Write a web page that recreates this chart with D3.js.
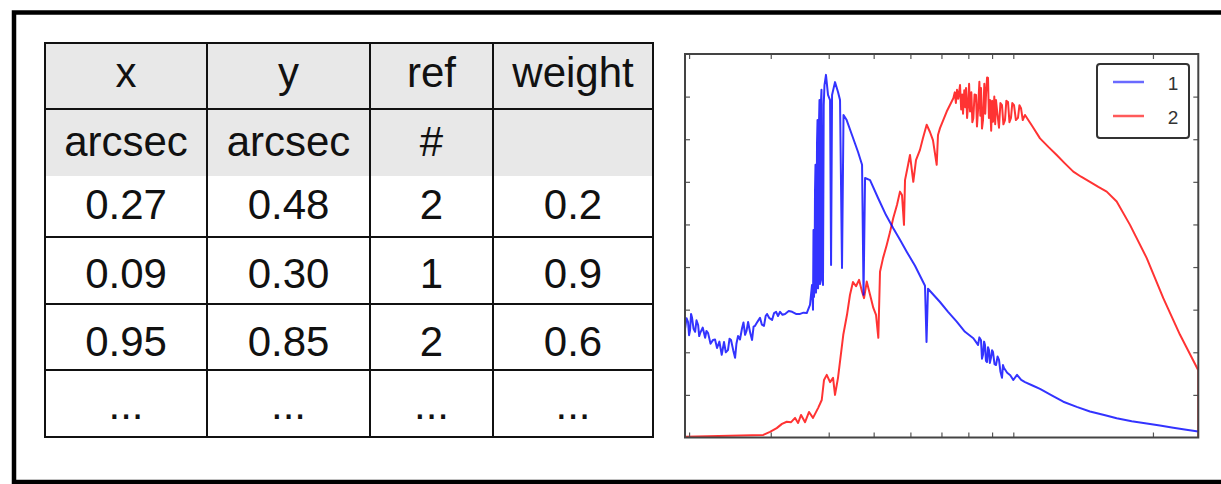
<!DOCTYPE html>
<html>
<head>
<meta charset="utf-8">
<script src="https://cdn.jsdelivr.net/npm/d3@7"></script>
<style>
html,body{margin:0;padding:0;background:#fff;}
svg{display:block;}
text{font-family:"Liberation Sans",Arial,sans-serif;}
</style>
</head>
<body>
<svg id="c" width="1221" height="484"></svg>
<script>
// ---------- data ----------
const headers = ["x", "y", "ref", "weight"];
const units = ["arcsec", "arcsec", "#", ""];
const xVals = [0.27, 0.09, 0.95];
const yVals = [0.48, 0.30, 0.85];
const refVals = [2, 1, 2];
const weightVals = [0.2, 0.9, 0.6];
const ellipsis = "...";

const seriesNames = ["1", "2"];
const xTicks = [0.2, 0.3, 0.4, 0.5, 0.6, 0.7, 0.8, 0.9, 1, 2];
const yTicks = [1, 2, 3, 4, 5, 6, 7, 8];

// series 1 (blue): wavelength / flux
const wave1 = [0.1961,0.1975,0.1990,0.2000,0.2010,0.2020,0.2030,0.2045,0.2061,0.2075,0.2092,0.2103,0.2113,0.2140,0.2166,0.2180,0.2198,0.2225,0.2253,0.2275,0.2298,0.2325,0.2352,0.2379,0.2400,0.2426,0.2445,0.2463,0.2490,0.2513,0.2530,0.2550,0.2575,0.2602,0.2620,0.2641,0.2660,0.2681,0.2710,0.2734,0.2755,0.2775,0.2810,0.2844,0.2870,0.2901,0.2925,0.2945,0.2980,0.3020,0.3050,0.3081,0.3110,0.3142,0.3180,0.3221,0.3280,0.3336,0.3400,0.3470,0.3530,0.3587,0.3645,0.3682,0.3700,0.3709,0.3718,0.3728,0.3737,0.3746,0.3755,0.3765,0.3774,0.3784,0.3793,0.3803,0.3812,0.3821,0.3830,0.3840,0.3850,0.3859,0.3873,0.3888,0.3902,0.3917,0.3946,0.3986,0.4027,0.4047,0.4067,0.4127,0.4189,0.4231,0.4273,0.4305,0.4373,0.4490,0.4627,0.4720,0.4755,0.4791,0.4911,0.5110,0.5316,0.5511,0.5698,0.5891,0.6139,0.6451,0.6500,0.6548,0.6950,0.7234,0.7551,0.7867,0.8200,0.8300,0.8394,0.8450,0.8519,0.8560,0.8604,0.8650,0.8689,0.8730,0.8775,0.8820,0.8863,0.8900,0.8951,0.9000,0.9041,0.9110,0.9177,0.9250,0.9315,0.9380,0.9454,0.9500,0.9550,0.9700,0.9850,1.0000,1.0186,1.0400,1.0598,1.1000,1.1417,1.2100,1.2817,1.3700,1.4630,1.5700,1.6706,1.8000,1.9393,2.0700,2.2125,2.3600,2.5045];
const flux1 = [2.56,2.80,2.71,2.40,2.52,2.90,2.81,2.55,2.48,2.75,2.64,2.38,2.45,2.58,2.34,2.50,2.45,2.20,2.29,2.30,2.10,2.25,1.94,2.24,2.00,2.05,2.32,2.29,2.05,1.87,2.20,2.38,2.30,2.57,2.70,2.41,2.50,2.71,2.45,2.29,2.60,2.62,2.72,2.81,2.65,2.62,2.85,2.90,2.80,2.76,2.92,2.95,2.85,2.95,2.88,2.90,2.97,2.95,2.90,2.90,2.93,2.92,3.11,3.58,3.00,4.87,3.30,3.58,5.80,6.40,3.40,3.70,6.90,7.45,3.50,3.81,7.40,7.92,3.60,3.70,7.90,8.16,3.75,3.58,7.80,8.27,8.51,8.04,7.92,4.05,8.04,8.34,8.11,7.92,3.98,7.57,7.45,7.10,6.70,6.40,3.35,6.09,6.04,5.62,5.22,4.91,4.64,4.36,4.03,3.56,2.24,3.49,3.18,2.95,2.72,2.48,2.33,2.25,2.17,2.35,2.28,1.85,1.94,2.25,2.17,1.80,1.77,2.12,2.05,1.75,1.87,2.05,2.01,1.72,1.70,1.90,1.82,1.55,1.40,1.70,1.63,1.52,1.46,1.35,1.47,1.35,1.30,1.22,1.14,0.99,0.84,0.72,0.61,0.53,0.45,0.38,0.33,0.28,0.23,0.18,0.14];

// series 2 (red): wavelength / flux
const wave2 = [0.1961,0.2891,0.2989,0.3090,0.3172,0.3248,0.3319,0.3385,0.3436,0.3487,0.3557,0.3628,0.3700,0.3794,0.3864,0.3908,0.3961,0.4027,0.4087,0.4127,0.4189,0.4300,0.4380,0.4446,0.4512,0.4581,0.4650,0.4720,0.4767,0.4831,0.4911,0.4992,0.5059,0.5117,0.5160,0.5238,0.5335,0.5423,0.5511,0.5615,0.5698,0.5755,0.5812,0.5842,0.5929,0.5988,0.6087,0.6169,0.6292,0.6387,0.6505,0.6612,0.6711,0.6837,0.6881,0.6950,0.7185,0.7425,0.7480,0.7520,0.7562,0.7610,0.7676,0.7720,0.7760,0.7792,0.7840,0.7880,0.7909,0.7950,0.7988,0.8030,0.8067,0.8120,0.8160,0.8200,0.8250,0.8310,0.8350,0.8394,0.8450,0.8490,0.8519,0.8560,0.8604,0.8660,0.8700,0.8733,0.8780,0.8820,0.8860,0.8907,0.8960,0.9000,0.9041,0.9100,0.9140,0.9177,0.9240,0.9315,0.9380,0.9454,0.9520,0.9596,0.9660,0.9741,0.9810,0.9886,0.9950,1.0035,1.0130,1.0235,1.0310,1.0390,1.0480,1.0598,1.1000,1.1417,1.1900,1.2403,1.2900,1.3469,1.4000,1.4630,1.5250,1.5898,1.6706,1.7846,1.9393,2.1053,2.2877,2.5045,2.5046];
const flux2 = [0.02,0.06,0.13,0.22,0.32,0.37,0.36,0.46,0.34,0.53,0.36,0.60,0.46,0.69,0.88,1.35,1.47,1.30,1.40,1.00,1.40,2.41,2.88,3.35,3.65,3.55,3.70,3.42,3.27,3.66,3.35,3.04,2.88,2.34,3.89,4.21,4.52,4.82,5.15,5.46,5.77,5.69,4.99,6.04,6.39,6.63,6.00,6.51,6.75,7.03,7.34,7.17,6.98,6.40,7.10,7.26,7.65,7.96,8.10,7.85,8.16,7.95,8.27,7.70,8.05,7.60,8.15,7.75,8.20,7.50,7.80,8.30,7.65,8.10,7.40,7.49,8.05,8.04,7.30,7.69,8.35,7.55,8.20,7.25,7.45,8.30,7.60,8.04,8.45,8.44,7.50,7.92,7.20,7.90,7.41,8.00,7.35,7.92,7.60,7.27,7.85,7.80,7.35,7.45,7.90,7.87,7.40,7.50,7.85,7.80,7.45,7.50,7.80,7.73,7.45,7.57,7.30,7.02,6.82,6.63,6.44,6.24,6.12,6.00,5.88,5.77,5.54,4.99,4.21,3.27,2.41,1.58,0.00];

// ---------- drawing ----------
const svg = d3.select("#c");

// outer frame
svg.append("rect").attr("x", 14).attr("y", 12.5).attr("width", 1225).attr("height", 469.5)
  .attr("fill", "none").attr("stroke", "#000").attr("stroke-width", 4.5);

// ---- table ----
const colEdges = [45, 207, 370, 493, 653];
const rowEdges = [43, 109, 176, 237, 304, 370, 437];
const baselines = [87, 156, 219, 288, 356, 419];
const fmt2 = d3.format(".2f"), fmt1 = d3.format(".1f");
const tableRows = [headers, units];
xVals.forEach((v, i) => tableRows.push([fmt2(v), fmt2(yVals[i]), String(refVals[i]), fmt1(weightVals[i])]));
tableRows.push(headers.map(() => ellipsis));

const tbl = svg.append("g");
tbl.append("rect").attr("x", colEdges[0]).attr("y", rowEdges[0])
  .attr("width", colEdges[4] - colEdges[0]).attr("height", rowEdges[2] - rowEdges[0]).attr("fill", "#e8e8e8");
[0, 1, 3, 4, 5, 6].forEach(r => {
  tbl.append("line").attr("x1", colEdges[0] - 1).attr("x2", colEdges[4] + 1)
    .attr("y1", rowEdges[r]).attr("y2", rowEdges[r]).attr("stroke", "#111").attr("stroke-width", 2);
});
colEdges.forEach(c => {
  tbl.append("line").attr("x1", c).attr("x2", c).attr("y1", rowEdges[0] - 1).attr("y2", rowEdges[6] + 1)
    .attr("stroke", "#111").attr("stroke-width", 2);
});
tableRows.forEach((row, r) => {
  row.forEach((t, c) => {
    tbl.append("text").attr("x", (colEdges[c] + colEdges[c + 1]) / 2).attr("y", baselines[r])
      .attr("text-anchor", "middle").attr("font-size", 42).attr("fill", "#111").text(t);
  });
});

// ---- plot ----
const x = d3.scaleLog().domain([0.196, 2.505]).range([685, 1198.3]);
const y = d3.scaleLinear().domain([0, 9]).range([437.5, 54]);

svg.append("rect").attr("x", 685).attr("y", 54).attr("width", 513.3).attr("height", 383.5).attr("fill", "#fff");
svg.append("clipPath").attr("id", "clip").append("rect")
  .attr("x", 685).attr("y", 54).attr("width", 513.3).attr("height", 383.5);

const line = d3.line().x(d => x(d[0])).y(d => y(d[1]));
const pts1 = wave1.map((w, i) => [w, flux1[i]]);
const pts2 = wave2.map((w, i) => [w, flux2[i]]);

const pg = svg.append("g").attr("clip-path", "url(#clip)");
pg.append("path").datum(pts2).attr("d", line).attr("fill", "none")
  .attr("stroke", "#ff0000").attr("stroke-width", 2).attr("stroke-opacity", 0.8).attr("stroke-linejoin", "round");
pg.append("path").datum(pts1).attr("d", line).attr("fill", "none")
  .attr("stroke", "#0000ff").attr("stroke-width", 2).attr("stroke-opacity", 0.8).attr("stroke-linejoin", "round");

function styleAxis(g) {
  g.select(".domain").remove();
  g.selectAll(".tick line").attr("stroke", "#555").attr("stroke-width", 1.2);
  g.selectAll(".tick text").remove();
}
svg.append("g").attr("transform", "translate(0,437.5)")
  .call(d3.axisBottom(x).tickValues(xTicks).tickSize(-5).tickFormat("")).call(styleAxis);
svg.append("g").attr("transform", "translate(0,54)")
  .call(d3.axisTop(x).tickValues(xTicks).tickSize(-5).tickFormat("")).call(styleAxis);
svg.append("g").attr("transform", "translate(685,0)")
  .call(d3.axisLeft(y).tickValues(yTicks).tickSize(-5).tickFormat("")).call(styleAxis);
svg.append("g").attr("transform", "translate(1198.3,0)")
  .call(d3.axisRight(y).tickValues(yTicks).tickSize(-5).tickFormat("")).call(styleAxis);

svg.append("rect").attr("x", 685).attr("y", 54).attr("width", 513.3).attr("height", 383.5)
  .attr("fill", "none").attr("stroke", "#444").attr("stroke-width", 2);

// legend
const lg = svg.append("g");
lg.append("rect").attr("x", 1097).attr("y", 64).attr("width", 92).attr("height", 74).attr("rx", 3)
  .attr("fill", "#fff").attr("stroke", "#333").attr("stroke-width", 2);
const legColors = ["#6a6aff", "#ff5a5a"];
seriesNames.forEach((n, i) => {
  const ly = 82 + i * 34;
  lg.append("line").attr("x1", 1113).attr("x2", 1144).attr("y1", ly).attr("y2", ly)
    .attr("stroke", legColors[i]).attr("stroke-width", 2.5);
  lg.append("text").attr("x", 1173).attr("y", ly + 8).attr("text-anchor", "middle")
    .attr("font-size", 19).attr("fill", "#333").text(n);
});
</script>
</body>
</html>
